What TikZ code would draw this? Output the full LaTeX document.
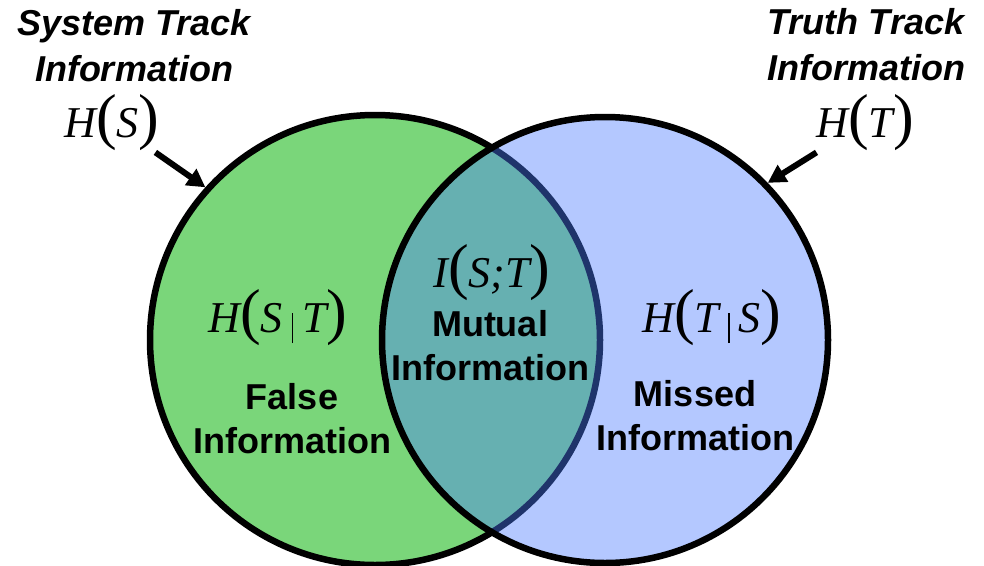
\documentclass[tikz,border=0pt]{standalone}
\usepackage{fontspec}
\setmainfont{Liberation Serif}
\setsansfont{Liberation Sans}
\usetikzlibrary{arrows.meta, positioning}

\definecolor{sysgreen}{RGB}{122,214,122}
\definecolor{trublue}{RGB}{76,124,255}

\newcommand{\bigopen}{{\upshape\fontsize{62pt}{62pt}\selectfont(}}
\newcommand{\bigclose}{{\upshape\fontsize{62pt}{62pt}\selectfont)}}
\newcommand{\condbar}{\hspace{9pt}\rule[-11pt]{1.4pt}{30pt}\hspace{9pt}}

\tikzset{
  venn/.style={circle, draw, line width=6.5pt, inner sep=0pt},
  title/.style={align=center, anchor=base, font=\sffamily\bfseries\itshape\fontsize{36pt}{46pt}\selectfont},
  region/.style={align=center, anchor=base, font=\sffamily\bfseries\fontsize{36pt}{44pt}\selectfont},
  entropy/.style={anchor=base, inner sep=2pt, font=\itshape\fontsize{44pt}{44pt}\selectfont},
  pointer/.style={line width=6pt, -{Triangle[length=18pt,width=19pt]}}
}

\begin{document}
\begin{tikzpicture}[x=1pt, y=-1pt]
  \useasboundingbox (0,0) rectangle (984,565);
  % the two sets
  \node (sys) [venn, fill=sysgreen, minimum size=450pt] at (375,340) {};
  \node (tru) [venn, fill=trublue, fill opacity=0.42, minimum size=446pt] at (605,340) {};
  % titles and entropies
  \node (sysTitle) [title] at (134,81) {System Track\\Information};
  \node (truTitle) [title] at (866,80) {Truth Track\\Information};
  \node (HS) [entropy] at (112,137) {H\bigopen S\bigclose};
  \node (HT) [entropy] at (865,137) {H\bigopen T\bigclose};
  \draw[pointer] (HS) -- (sys.138);
  \draw[pointer] (HT) -- (tru.44);
  % regions
  \node (HST) [entropy] at (278,332) {H\bigopen S\condbar T\bigclose};
  \node (ITS) [entropy] at (492,287) {I\bigopen S;T\bigclose};
  \node (HTS) [entropy] at (712,332) {H\bigopen T\condbar S\bigclose};
  \node (falseTxt) [region] at (292,453) {False\\Information};
  \node (mutualTxt) [region] at (490,380) {Mutual\\Information};
  \node (missedTxt) [region] at (695,450) {Missed\\Information};
\end{tikzpicture}
\end{document}
